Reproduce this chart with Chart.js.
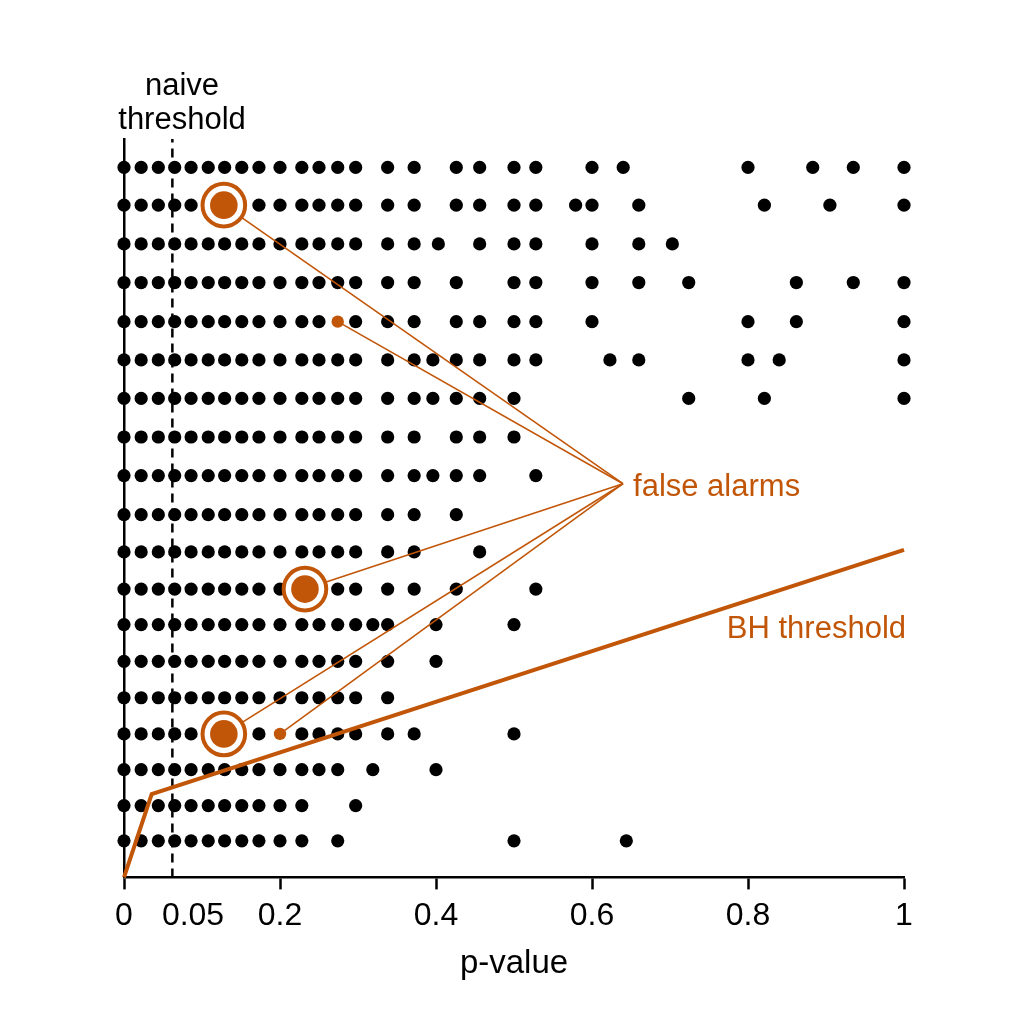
<!DOCTYPE html>
<html>
<head>
<meta charset="utf-8">
<script src="https://cdn.jsdelivr.net/npm/chart.js@4/dist/chart.umd.min.js"></script>
<style>
html,body{margin:0;padding:0;background:#fff;}
#wrap{width:1024px;height:1024px;}
</style>
</head>
<body>
<div id="wrap"><canvas id="c" width="1024" height="1024"></canvas></div>
<script>
const ORANGE = '#C25608';
const FONT = '"Liberation Sans", Arial, Helvetica, sans-serif';

// p-values of the tests in each row (row 1 = bottom)
const row19 = [0,0.022,0.044,0.065,0.086,0.108,0.129,0.151,0.173,0.2,0.228,0.25,0.274,0.297,0.338,0.372,0.426,0.456,0.5,0.528,0.6,0.64,0.8,0.883,0.935,1];
const row18 = [0,0.022,0.044,0.065,0.086,0.173,0.2,0.228,0.25,0.274,0.297,0.338,0.372,0.426,0.456,0.5,0.528,0.579,0.6,0.66,0.821,0.905,1];
const row17 = [0,0.022,0.044,0.065,0.086,0.108,0.129,0.151,0.173,0.2,0.228,0.25,0.274,0.297,0.338,0.372,0.403,0.456,0.5,0.528,0.6,0.66,0.703];
const row16 = [0,0.022,0.044,0.065,0.086,0.108,0.129,0.151,0.173,0.2,0.228,0.25,0.274,0.297,0.338,0.372,0.426,0.5,0.528,0.6,0.66,0.724,0.862,0.935,1];
const row15 = [0,0.022,0.044,0.065,0.086,0.108,0.129,0.151,0.173,0.2,0.228,0.25,0.297,0.338,0.372,0.426,0.456,0.5,0.528,0.6,0.8,0.862,1];
const row14 = [0,0.022,0.044,0.065,0.086,0.108,0.129,0.151,0.173,0.2,0.228,0.25,0.274,0.297,0.338,0.372,0.396,0.426,0.456,0.5,0.528,0.623,0.66,0.8,0.84,1];
const row13 = [0,0.022,0.044,0.065,0.086,0.108,0.129,0.151,0.173,0.2,0.228,0.25,0.274,0.297,0.338,0.372,0.396,0.426,0.456,0.5,0.724,0.821,1];
const row12 = [0,0.022,0.044,0.065,0.086,0.108,0.129,0.151,0.173,0.2,0.228,0.25,0.274,0.297,0.338,0.372,0.426,0.456,0.5];
const row11 = [0,0.022,0.044,0.065,0.086,0.108,0.129,0.151,0.173,0.2,0.228,0.25,0.274,0.297,0.338,0.372,0.396,0.426,0.456,0.528];
const row10 = [0,0.022,0.044,0.065,0.086,0.108,0.129,0.151,0.173,0.2,0.228,0.25,0.274,0.297,0.338,0.372,0.426];
const row9  = [0,0.022,0.044,0.065,0.086,0.108,0.129,0.151,0.173,0.2,0.228,0.25,0.274,0.297,0.338,0.372,0.456];
const row8  = [0,0.022,0.044,0.065,0.086,0.108,0.129,0.151,0.173,0.2,0.274,0.297,0.338,0.372,0.426,0.528];
const row7  = [0,0.022,0.044,0.065,0.086,0.108,0.129,0.151,0.173,0.2,0.228,0.25,0.274,0.297,0.319,0.338,0.4,0.5];
const row6  = [0,0.022,0.044,0.065,0.086,0.108,0.129,0.151,0.173,0.2,0.228,0.25,0.274,0.297,0.338,0.4];
const row5  = [0,0.022,0.044,0.065,0.086,0.108,0.129,0.151,0.173,0.2,0.228,0.25,0.274,0.297,0.338];
const row4  = [0,0.022,0.044,0.065,0.086,0.173,0.228,0.25,0.274,0.297,0.338,0.372,0.5];
const row3  = [0,0.022,0.044,0.065,0.086,0.108,0.129,0.151,0.173,0.2,0.228,0.25,0.274,0.319,0.4];
const row2  = [0,0.022,0.044,0.065,0.086,0.108,0.129,0.151,0.173,0.2,0.228,0.297];
const row1  = [0,0.022,0.044,0.065,0.086,0.108,0.129,0.151,0.173,0.2,0.228,0.274,0.5,0.644];
const rows = [row1,row2,row3,row4,row5,row6,row7,row8,row9,row10,row11,row12,row13,row14,row15,row16,row17,row18,row19];

// vertical position of each row on the (unlabelled) y axis
const rowY = [0.978,1.920,2.882,3.838,4.805,5.780,6.763,7.711,8.705,9.701,10.748,11.779,12.812,13.841,14.864,15.911,16.944,17.981,18.990];

// highlighted false alarms (row number, p-value)
const falseAlarmsCircled = [{row:18,p:0.128},{row:8,p:0.232},{row:4,p:0.128}];
const falseAlarmsSmall   = [{row:15,p:0.274},{row:4,p:0.2}];

// thresholds
const bhThreshold = [{x:0,y:0},{x:0.0355,y:2.23},{x:1,y:8.76}];
const naiveThreshold = 0.062;
const yMax = 19.75;

// x axis ticks
const xTickValues = [0,0.0885,0.2,0.4,0.6,0.8,1];
const xTickLabels = ['0','0.05','0.2','0.4','0.6','0.8','1'];

// annotation anchors (data space)
const alarmHub = {x:0.6397,y:10.53};
const alarmLabel = {x:0.6526,y:10.21,text:'false alarms'};
const bhLabel = {x:1.0026,y:6.39,text:'BH threshold'};
const naiveLabel = {x:0.0744,lines:[{y:20.93,text:'naive'},{y:20.02,text:'threshold'}]};

const toPt = a => ({x:a.p, y:rowY[a.row-1]});
const circledPts = falseAlarmsCircled.map(toPt);
const smallPts = falseAlarmsSmall.map(toPt);
const blackDots = rows.flatMap((r,i)=>r.map(p=>({x:p,y:rowY[i]})));

const leaderSets = circledPts.concat(smallPts).map(pt=>({
  type:'line', data:[{x:alarmHub.x,y:alarmHub.y},{x:pt.x,y:pt.y}],
  borderColor:ORANGE, borderWidth:1.6, pointRadius:0, fill:false, clip:false, order:4
}));

const textPlugin = {
  id:'texts',
  afterDatasetsDraw(chart){
    const {ctx, scales:{x,y}} = chart;
    ctx.save();
    ctx.textBaseline = 'alphabetic';
    ctx.font = '31px ' + FONT;
    ctx.fillStyle = ORANGE;
    ctx.textAlign = 'left';
    ctx.fillText(alarmLabel.text, x.getPixelForValue(alarmLabel.x), y.getPixelForValue(alarmLabel.y));
    ctx.textAlign = 'right';
    ctx.fillText(bhLabel.text, x.getPixelForValue(bhLabel.x), y.getPixelForValue(bhLabel.y));
    ctx.fillStyle = '#000';
    ctx.textAlign = 'center';
    naiveLabel.lines.forEach(l=>ctx.fillText(l.text, x.getPixelForValue(naiveLabel.x), y.getPixelForValue(l.y)));
    ctx.restore();
  }
};

new Chart(document.getElementById('c'), {
  type:'scatter',
  data:{
    datasets:[
      {data:circledPts, backgroundColor:ORANGE, borderWidth:0, pointRadius:13.8, clip:false, order:1},
      {data:smallPts, backgroundColor:ORANGE, borderWidth:0, pointRadius:6.2, clip:false, order:1},
      {data:circledPts, backgroundColor:'#fff', borderColor:ORANGE, borderWidth:4, pointRadius:21.3, clip:false, order:2},
      ...leaderSets,
      {type:'line', data:bhThreshold, borderColor:ORANGE, borderWidth:4, pointRadius:0, fill:false, clip:false, order:5},
      {type:'line', data:[{x:naiveThreshold,y:0},{x:naiveThreshold,y:yMax}], borderColor:'#000', borderWidth:2.5, borderDash:[9,6], pointRadius:0, fill:false, clip:false, order:6},
      {data:blackDots, backgroundColor:'#000', borderWidth:0, pointRadius:6.6, clip:false, order:10}
    ]
  },
  options:{
    responsive:false, animation:false, devicePixelRatio:1,
    layout:{padding:{left:104,right:120,top:139,bottom:0}},
    plugins:{legend:{display:false}, tooltip:{enabled:false}},
    elements:{point:{hoverRadius:0}},
    scales:{
      x:{
        type:'linear', min:0, max:1,
        afterBuildTicks:s=>{ s.ticks = xTickValues.map(v=>({value:v})); },
        afterFit:s=>{ s.height = 1024-877.4; s.paddingLeft = 0; s.paddingRight = 0; },
        ticks:{callback:(v,i)=>xTickLabels[i], autoSkip:false, maxRotation:0, color:'#000', padding:8, font:{size:32, family:FONT}},
        grid:{drawOnChartArea:false, drawTicks:true, tickLength:12, tickWidth:2.5, tickColor:ctx=>ctx.index===1?'rgba(0,0,0,0)':'#000'},
        border:{display:true, color:'#000', width:2.5},
        title:{display:true, text:'p-value', color:'#000', font:{size:33, family:FONT}, padding:{top:0,bottom:40}}
      },
      y:{
        type:'linear', min:0, max:yMax,
        afterFit:s=>{ s.width = 20; s.paddingTop = 0; s.paddingBottom = 0; },
        ticks:{display:false},
        grid:{display:false, drawTicks:false},
        border:{display:true, color:'#000', width:2.5}
      }
    }
  },
  plugins:[textPlugin]
});
</script>
</body>
</html>
